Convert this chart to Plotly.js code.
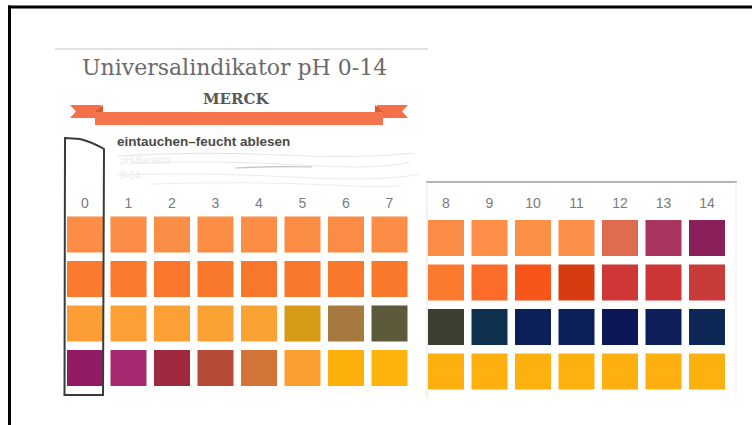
<!DOCTYPE html>
<html>
<head>
<meta charset="utf-8">
<script src="https://cdn.plot.ly/plotly-3.0.1.min.js"></script>
<style>html,body{margin:0;padding:0;background:#fff;}#chart{width:752px;height:425px;}</style>
</head>
<body>
<div id="chart"></div>
<script>
// ---- data ----
const phLeft = [0, 1, 2, 3, 4, 5, 6, 7];
const phRight = [8, 9, 10, 11, 12, 13, 14];
const rows = [1, 2, 3, 4];
const row1Colors = ['#fb8d46','#fb8d46','#fb8e47','#fb8d45','#fb8d45','#fb8c44','#fb8c45','#fb8d46','#fb8c45','#fc8e47','#fc8f46','#fc9048','#df6b50','#a8345f','#8b1f5a'];
const row2Colors = ['#fa7a2f','#fa792d','#fa772c','#fa782c','#f9772b','#f9772b','#f9782c','#f9782c','#fb7a2e','#fb6b29','#f75519','#d63c10','#cf3636','#cc3637','#c93b39'];
const row3Colors = ['#fc9d35','#fca036','#fca036','#fba234','#fba234','#d69a15','#a67a3e','#5c5a3b','#3b3e31','#10304f','#0c1f58','#0d1f58','#0b1757','#0d1e59','#0f2757'];
const row4Colors = ['#931b66','#a6296f','#a0283f','#b54a36','#d27437','#fb9f32','#fdb00c','#fdb20d','#fdb00f','#fdb00f','#fdb10e','#fdb10e','#fdb00f','#fdb00f','#fdb10f'];
const tickLabels = ['0','1','2','3','4','5','6','7','8','9','10','11','12','13','14'];
const titleText = 'Universalindikator pH 0-14';
const brandText = 'MERCK';
const instructionText = 'eintauchen\u2013feucht ablesen';

// ---- layout helpers (decorations only, in pixel -> paper) ----
const W = 752, H = 425;
const px = v => v / W;
const py = v => 1 - v / H;

const allRowColors = [row1Colors, row2Colors, row3Colors, row4Colors];
const traces = [];
function addPanel(phs, xa, ya, labelRow) {
  rows.forEach((r, i) => {
    traces.push({
      type: 'scatter', mode: 'markers', xaxis: xa, yaxis: ya,
      x: phs, y: phs.map(() => r),
      marker: { symbol: 'square', size: 36, color: phs.map(p => allRowColors[i][p]), line: { width: 0 } },
      hoverinfo: 'skip', showlegend: false
    });
  });
  traces.push({
    type: 'scatter', mode: 'text', xaxis: xa, yaxis: ya,
    x: phs, y: phs.map(() => labelRow), text: phs.map(p => tickLabels[p]),
    textfont: { family: 'Liberation Sans, Arial, sans-serif', size: 14, color: '#7a7a7a' },
    hoverinfo: 'skip', showlegend: false
  });
}
addPanel(phLeft, 'x', 'y', 0.33);
addPanel(phRight, 'x2', 'y2', 0.24);

const pitchX = 43.5, pitchY = 44.5;
const ax = (c0, p0, pitch) => [p0 - c0 / pitch, p0 + (W - c0) / pitch];
const ayr = (c1, pitch) => [1 + (H - c1) / pitch, 1 - c1 / pitch];

const shapes = [
  // frame
  { type: 'line', xref: 'paper', yref: 'paper', x0: px(9.5), x1: px(9.5), y0: py(5.5), y1: py(425), line: { color: '#000', width: 3 } },
  { type: 'line', xref: 'paper', yref: 'paper', x0: px(8), x1: px(752), y0: py(7), y1: py(7), line: { color: '#000', width: 3 } },
  // card edges
  { type: 'line', xref: 'paper', yref: 'paper', x0: px(55), x1: px(428), y0: py(49), y1: py(49), line: { color: '#c4c4c4', width: 1 } },
  { type: 'line', xref: 'paper', yref: 'paper', x0: px(426), x1: px(737), y0: py(182), y1: py(182), line: { color: '#9a9a9a', width: 1.5 } },
  { type: 'line', xref: 'paper', yref: 'paper', x0: px(427), x1: px(427), y0: py(182), y1: py(398), line: { color: '#e4e4e4', width: 1 } },
  { type: 'line', xref: 'paper', yref: 'paper', x0: px(736), x1: px(736), y0: py(182), y1: py(396), line: { color: '#efefef', width: 1 } },
  // banner
  { type: 'path', xref: 'paper', yref: 'paper', path: `M ${px(70)},${py(105)} L ${px(101)},${py(105)} L ${px(101)},${py(118)} L ${px(70)},${py(118)} L ${px(76)},${py(111.5)} Z`, fillcolor: '#f4704a', line: { width: 0 } },
  { type: 'path', xref: 'paper', yref: 'paper', path: `M ${px(408)},${py(105)} L ${px(377)},${py(105)} L ${px(377)},${py(118)} L ${px(408)},${py(118)} L ${px(402)},${py(111.5)} Z`, fillcolor: '#f4704a', line: { width: 0 } },
  { type: 'path', xref: 'paper', yref: 'paper', path: `M ${px(95)},${py(112)} L ${px(103)},${py(105)} L ${px(103)},${py(112)} Z`, fillcolor: '#d9583a', line: { width: 0 } },
  { type: 'path', xref: 'paper', yref: 'paper', path: `M ${px(383)},${py(112)} L ${px(375)},${py(105)} L ${px(375)},${py(112)} Z`, fillcolor: '#d9583a', line: { width: 0 } },
  { type: 'rect', xref: 'paper', yref: 'paper', x0: px(95), x1: px(383), y0: py(112), y1: py(125), fillcolor: '#f6744c', line: { width: 0 } },
  // strip outline around pH 0
  { type: 'path', xref: 'paper', yref: 'paper', path: `M ${px(65)},${py(138)} L ${px(80)},${py(139)} Q ${px(92)},${py(142)} ${px(104)},${py(149)} L ${px(103)},${py(395)} L ${px(64.5)},${py(395)} Z`, line: { color: '#3a3a3a', width: 2 }, fillcolor: 'rgba(0,0,0,0)' },
  // scribbled area
  { type: 'path', xref: 'paper', yref: 'paper', path: `M ${px(118)},${py(156)} Q ${px(200)},${py(151)} ${px(280)},${py(155)} T ${px(415)},${py(153)}`, line: { color: '#e4e4e4', width: 1 } },
  { type: 'path', xref: 'paper', yref: 'paper', path: `M ${px(130)},${py(163)} Q ${px(220)},${py(160)} ${px(300)},${py(165)} T ${px(410)},${py(162)}`, line: { color: '#e8e8e8', width: 1 } },
  { type: 'path', xref: 'paper', yref: 'paper', path: `M ${px(235)},${py(168)} Q ${px(270)},${py(166)} ${px(312)},${py(167)}`, line: { color: '#c2c2c2', width: 1.2 } },
  { type: 'path', xref: 'paper', yref: 'paper', path: `M ${px(118)},${py(175)} Q ${px(200)},${py(172)} ${px(290)},${py(177)} T ${px(420)},${py(174)}`, line: { color: '#ebebeb', width: 1 } },
  { type: 'path', xref: 'paper', yref: 'paper', path: `M ${px(150)},${py(184)} Q ${px(250)},${py(181)} ${px(330)},${py(185)} T ${px(400)},${py(183)}`, line: { color: '#eeeeee', width: 1 } }
];

const annotations = [
  { text: titleText, xref: 'paper', yref: 'paper', x: px(234), y: py(67), showarrow: false, xanchor: 'center', yanchor: 'middle',
    font: { family: 'DejaVu Serif, serif', size: 22, color: '#6a6a6a' } },
  { text: '<b>' + brandText + '</b>', xref: 'paper', yref: 'paper', x: px(236), y: py(99), showarrow: false, xanchor: 'center', yanchor: 'middle',
    font: { family: 'DejaVu Serif, serif', size: 15, color: '#585858' } },
  { text: '<b>' + instructionText + '</b>', xref: 'paper', yref: 'paper', x: px(115), y: py(141.5), showarrow: false, xanchor: 'left', yanchor: 'middle',
    font: { family: 'Liberation Sans Narrow, Arial Narrow, Liberation Sans, sans-serif', size: 13.5, color: '#4a4a4a' } },
  { text: 'pH-Bereich', xref: 'paper', yref: 'paper', x: px(118), y: py(160), showarrow: false, xanchor: 'left', yanchor: 'middle',
    font: { family: 'Liberation Sans, sans-serif', size: 10, color: '#ececec' } },
  { text: '0-14', xref: 'paper', yref: 'paper', x: px(118), y: py(175), showarrow: false, xanchor: 'left', yanchor: 'middle',
    font: { family: 'Liberation Sans, sans-serif', size: 10, color: '#ececec' } }
];

const hidden = { visible: false, fixedrange: true, showgrid: false, zeroline: false };
const layout = {
  width: W, height: H,
  margin: { l: 0, r: 0, t: 0, b: 0, pad: 0 },
  paper_bgcolor: '#ffffff', plot_bgcolor: 'rgba(0,0,0,0)',
  showlegend: false,
  xaxis: Object.assign({}, hidden, { domain: [0, 1], range: ax(85, 0, pitchX) }),
  yaxis: Object.assign({}, hidden, { domain: [0, 1], range: ayr(234.5, pitchY) }),
  xaxis2: Object.assign({}, hidden, { domain: [0, 1], overlaying: 'x', anchor: 'y2', range: ax(446, 8, pitchX) }),
  yaxis2: Object.assign({}, hidden, { domain: [0, 1], overlaying: 'y', anchor: 'x2', range: ayr(238, pitchY) }),
  shapes: shapes,
  annotations: annotations
};

Plotly.newPlot('chart', traces, layout, { displayModeBar: false, staticPlot: true });
</script>
</body>
</html>
